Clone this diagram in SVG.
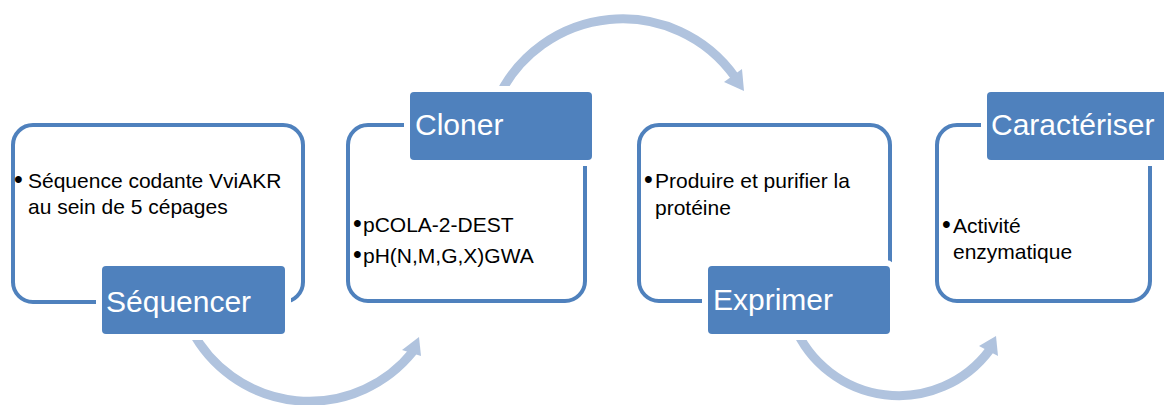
<svg xmlns="http://www.w3.org/2000/svg" width="1164" height="405" viewBox="0 0 1164 405">
<style>
.frame{fill:#fff;stroke:#4F81BD;stroke-width:4}
.label{fill:#4F81BD;stroke:#fff;stroke-width:12;paint-order:stroke}
.lt{font-family:"Liberation Sans",Arial,sans-serif;font-size:30px;fill:#fff}
.bt{font-family:"Liberation Sans",Arial,sans-serif;font-size:21px;fill:#000}
.bu{font-size:25px}
.arc{fill:none;stroke:#B0C3DE;stroke-width:9}
.head{fill:#B0C3DE}
</style>
<rect width="1164" height="405" fill="#fff"/>
<g id="connectors">
  <path class="arc" d="M191.5 330 A133 133 0 0 0 413 351.5"/>
  <polygon class="head" points="402,350 419,337 421,356"/>
  <path class="arc" d="M497 100 A137.7 137.7 0 0 1 735 77"/>
  <polygon class="head" points="724,82 742,69 744,91"/>
  <path class="arc" d="M793.9 325 A113.2 113.2 0 0 0 990 349.5"/>
  <polygon class="head" points="979,346 996,336 998,356"/>
</g>
<g id="node-sequencer">
  <rect class="frame" x="13" y="125" width="290" height="177" rx="20"/>
  <text class="bt" y="188"><tspan class="bu" x="14">•</tspan><tspan x="28">Séquence codante VviAKR</tspan></text>
  <text class="bt" x="28" y="214">au sein de 5 cépages</text>
  <rect class="label" x="102" y="266" width="183" height="68" rx="4"/>
  <text class="lt" x="106" y="312">Séquencer</text>
</g>
<g id="node-cloner">
  <rect class="frame" x="348" y="125" width="237" height="176" rx="20"/>
  <text class="bt" y="232"><tspan class="bu" x="353">•</tspan><tspan x="363">pCOLA-2-DEST</tspan></text>
  <text class="bt" y="263"><tspan class="bu" x="353">•</tspan><tspan x="363">pH(N,M,G,X)GWA</tspan></text>
  <rect class="label" x="410" y="92" width="182" height="68" rx="4"/>
  <text class="lt" x="415" y="135">Cloner</text>
</g>
<g id="node-exprimer">
  <rect class="frame" x="639" y="125" width="251" height="176" rx="20"/>
  <text class="bt" y="188"><tspan class="bu" x="644">•</tspan><tspan x="655">Produire et purifier la</tspan></text>
  <text class="bt" x="655" y="215">protéine</text>
  <rect class="label" x="708" y="266" width="182" height="68" rx="4"/>
  <text class="lt" x="713" y="310">Exprimer</text>
</g>
<g id="node-caracteriser">
  <rect class="frame" x="937" y="125" width="213" height="176" rx="20"/>
  <text class="bt" y="233"><tspan class="bu" x="942">•</tspan><tspan x="953">Activité</tspan></text>
  <text class="bt" x="953" y="259">enzymatique</text>
  <rect class="label" x="987" y="92" width="182" height="68" rx="4"/>
  <text class="lt" x="991" y="135">Caractériser</text>
</g>
</svg>
